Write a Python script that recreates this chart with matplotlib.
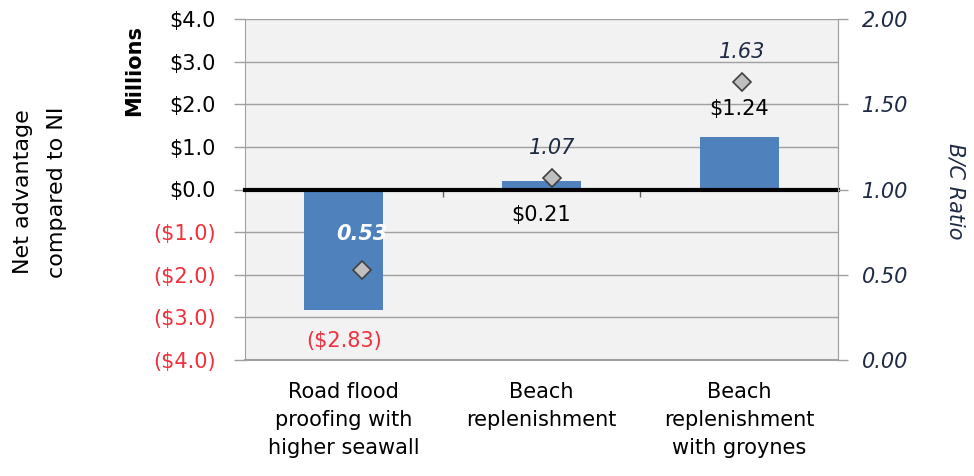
import numpy as np
import matplotlib
matplotlib.use("Agg")
import matplotlib.pyplot as plt

plt.rcParams['font.family'] = ['DejaVu Sans']

# datos
categorias = ["Road flood\nproofing with\nhigher seawall",
              "Beach\nreplenishment",
              "Beach\nreplenishment\nwith groynes"]
ventaja = [-2.83, 0.21, 1.24]          # millones
ratio_bc = [0.53, 1.07, 1.63]
etiquetas_barra = ["($2.83)", "$0.21", "$1.24"]
ticks_izq = [4, 3, 2, 1, 0, -1, -2, -3, -4]
textos_izq = ["$4.0", "$3.0", "$2.0", "$1.0", "$0.0",
              "($1.0)", "($2.0)", "($3.0)", "($4.0)"]
ticks_der = [0.0, 0.5, 1.0, 1.5, 2.0]

azul = "#4F81BD"
rojo = "#F0303C"
fondo = "#F2F2F2"
gris = "#A0A0A0"
oscuro = "#1F2A44"
fs = 15

fig = plt.figure(figsize=(9.74, 4.76), dpi=100)
ax = fig.add_axes([245/974, 1-360/476, 593/974, 341/476])
ax.set_facecolor(fondo)

x = np.arange(len(categorias))
ax.bar(x, ventaja, width=0.40, color=azul, zorder=3)
ax.set_xlim(-0.5, 2.5)
ax.set_ylim(-4, 4)

# eje izquierdo
ax.set_yticks(ticks_izq)
ax.set_yticklabels(textos_izq, fontsize=fs)
for t, v in zip(ax.get_yticklabels(), ticks_izq):
    t.set_color(rojo if v < 0 else "black")
ax.tick_params(axis="y", length=8, width=1, color=gris, pad=13)
ax.yaxis.grid(True, color=gris, lw=1, zorder=0)
ax.axhline(-4, color=gris, lw=1.5, zorder=1, clip_on=False)

# eje x en cero
ax.spines["bottom"].set_position(("data", 0))
ax.spines["bottom"].set_color("black")
ax.spines["bottom"].set_linewidth(3)
ax.spines["bottom"].set_zorder(5)
ax.spines["top"].set_visible(False)
ax.spines["left"].set_color(gris)
ax.spines["right"].set_color(gris)
ax.set_xticks([])
ax.set_xticks([0.5, 1.5], minor=True)
ax.tick_params(axis="x", which="minor", length=5, width=1, color="#606060", direction="out")

for xi, cat in zip(x, categorias):
    ax.text(xi, -0.065, cat, transform=ax.get_xaxis_transform(), ha="center", va="top",
            fontsize=fs, linespacing=1.5)

# etiquetas de barras
desp = [-31, -26, 28]
for xi, v, lab, d in zip(x, ventaja, etiquetas_barra, desp):
    base = 0 if abs(v) < 0.5 else v
    ax.annotate(lab, (xi, base), xytext=(0, d), textcoords="offset pixels",
                ha="center", va="center", fontsize=fs,
                color=rojo if v < 0 else "black", zorder=6)

# eje secundario: razon B/C
ax2 = ax.twinx()
ax2.set_ylim(0, 2)
ax2.set_yticks(ticks_der)
ax2.set_yticklabels(["%.2f" % t for t in ticks_der], fontsize=fs, style="italic", color=oscuro)
ax2.tick_params(axis="y", length=7, width=1, color=gris, pad=10)
for s in ["top", "bottom", "left"]:
    ax2.spines[s].set_visible(False)
ax2.spines["right"].set_color(gris)

xd = x * 0.961 + 0.092
ax2.plot(xd, ratio_bc, linestyle="none", marker="D", markersize=9,
         markerfacecolor="#BFBFBF", markeredgecolor="#404040", markeredgewidth=1.2, zorder=6)
for xi, r in zip(xd, ratio_bc):
    if r < 1:
        ax2.annotate("%.2f" % r, (xi, r), xytext=(0, 36), textcoords="offset pixels",
                     ha="center", va="center", fontsize=fs, style="italic",
                     weight="bold", color="white")
    else:
        ax2.annotate("%.2f" % r, (xi, r), xytext=(0, 30), textcoords="offset pixels",
                     ha="center", va="center", fontsize=fs, style="italic", color=oscuro)

# titulos de ejes
fig.text(40/974, 1-192/476, "Net advantage\ncompared to NI", rotation=90,
         ha="center", va="center", fontsize=16, linespacing=1.85)
fig.text(134/974, 1-70/476, "Millions", rotation=90, ha="center", va="center",
         fontsize=fs, weight="bold")
fig.text(955/974, 1-191/476, "B/C Ratio", rotation=270, ha="center", va="center",
         fontsize=fs, style="italic", color=oscuro)

fig.savefig("out.png", dpi=100)
